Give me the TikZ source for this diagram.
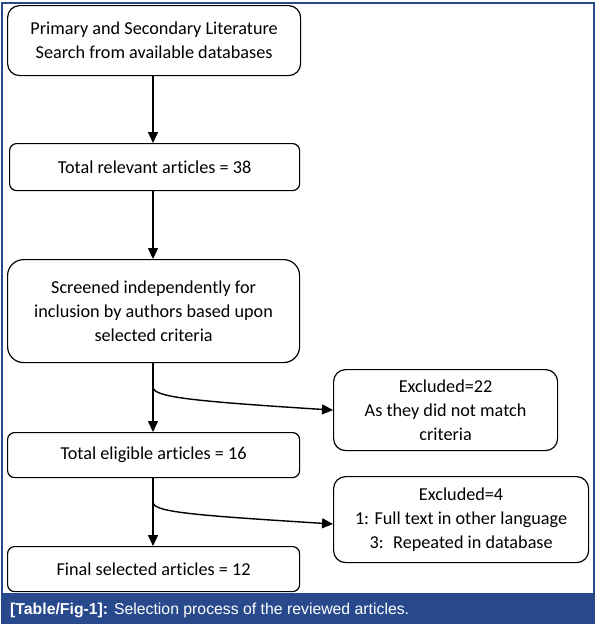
\documentclass[tikz,border=0pt]{standalone}
\usepackage{fontspec}
\setmainfont[Ligatures=NoCommon]{Carlito}
\newfontfamily\capfont{Liberation Sans}
\usetikzlibrary{arrows.meta}
\definecolor{frameblue}{RGB}{40,74,140}
\begin{document}
\begin{tikzpicture}[x=1pt,y=-1pt,
  box/.style={draw=black, line width=1.2pt, align=center, font=\fontsize{18.2}{24}\selectfont, inner sep=0pt, anchor=north west},
  arr/.style={line width=1.4pt, -{Triangle[width=10pt,length=11pt]}}]
\useasboundingbox (0,0) rectangle (597,625);
% frame and caption bar
\fill[frameblue] (2,593) rectangle (594,623);
\draw[frameblue, line width=1.2pt] (2,3) rectangle (594,623);
\node[anchor=base west, text=white, font=\capfont\fontsize{15.8}{18}\selectfont, inner sep=0pt] (cap) at (10,614) {\textbf{[Table/Fig-1]:} Selection process of the reviewed articles.};
% boxes
\node[box, minimum width=293pt, minimum height=70pt, rounded corners=12pt] (lit) at (7,5) {Primary and Secondary Literature\\Search from available databases};
\node[box, minimum width=290pt, minimum height=47pt, rounded corners=7pt] (rel) at (9,143) {Total relevant articles = 38};
\node[box, minimum width=292pt, minimum height=103pt, rounded corners=16pt] (scr) at (7,259) {Screened independently for\\inclusion by authors based upon\\selected criteria};
\node[box, minimum width=224pt, minimum height=81pt, rounded corners=12pt] (ex1) at (333,369) {Excluded=22\\As they did not match\\criteria};
\node[box, minimum width=292pt, minimum height=45pt, rounded corners=7pt] (eli) at (7,432) {Total eligible articles = 16};
\node[box, minimum width=255pt, minimum height=86pt, rounded corners=12pt] (ex2) at (333,476) {Excluded=4\\1: Full text in other language\\3:~ Repeated in database};
\node[box, minimum width=292pt, minimum height=45pt, rounded corners=7pt] (fin) at (7,546) {Final selected articles = 12};
% connectors
\coordinate (ax) at (153,0);
\coordinate (b1) at (153,387);
\coordinate (b2) at (153,502);
\coordinate (t2) at (333,524);
\draw[arr] (lit.south -| ax) -- (rel.north -| ax);
\draw[arr] (rel.south -| ax) -- (scr.north -| ax);
\draw[arr] (scr.south -| ax) -- (eli.north -| ax);
\draw[arr] (eli.south -| ax) -- (fin.north -| ax);
\draw[arr] (b1) .. controls (153,397) and (190,401) .. (ex1.west);
\draw[arr] (b2) .. controls (153,512) and (190,515) .. (ex2.west |- t2);
\end{tikzpicture}
\end{document}
